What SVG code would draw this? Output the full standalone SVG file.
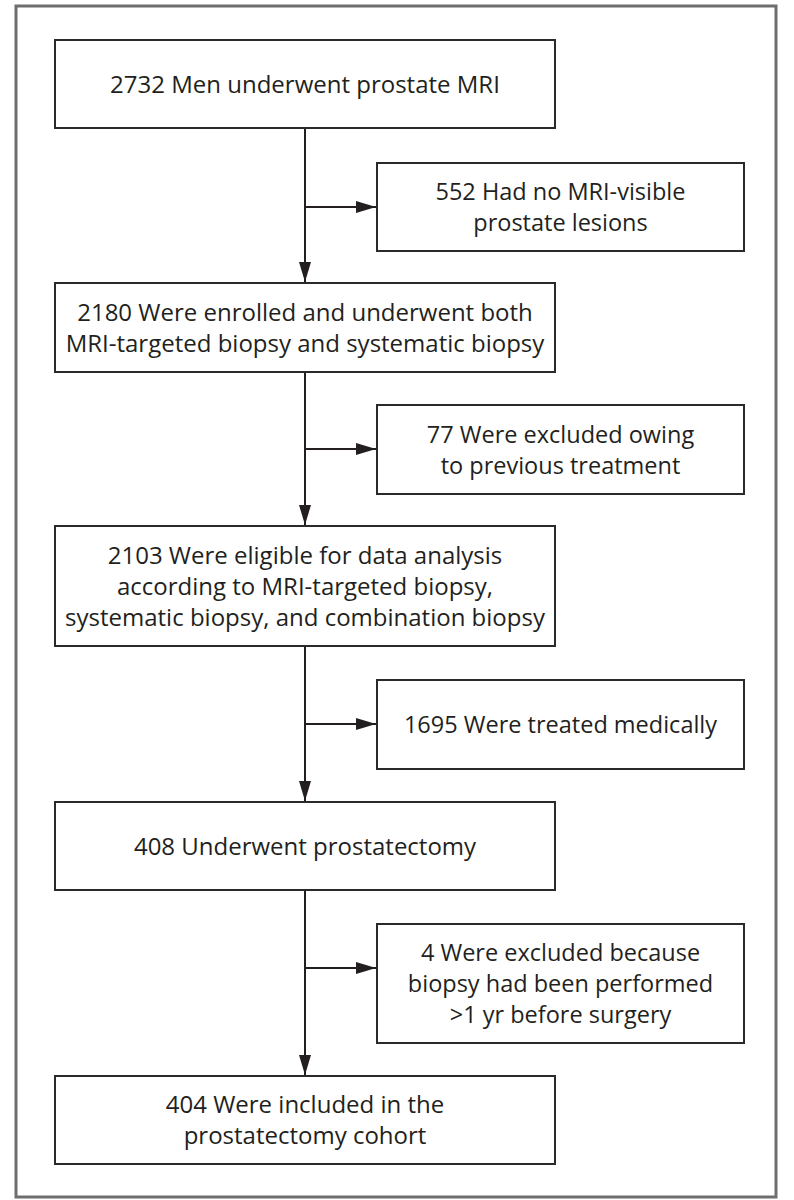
<svg xmlns="http://www.w3.org/2000/svg" width="794" height="1200" viewBox="0 0 794 1200">
<style>
.box{fill:#fff;stroke:#2a2a2a;stroke-width:2}
.t{font-family:"Open Sans","Liberation Sans",sans-serif;font-size:24px;fill:#231f20;text-anchor:middle}
.s{font-size:23.5px}
.ln{stroke:#231f20;stroke-width:2;fill:none}
</style>
<defs>
<marker id="ah" viewBox="0 0 20 12" refX="20" refY="6" markerWidth="20" markerHeight="12" markerUnits="userSpaceOnUse" orient="auto">
<path d="M0,0 L20,6 L0,12 Z" fill="#231f20"/>
</marker>
</defs>
<rect x="0" y="0" width="794" height="1200" fill="#fff"/>
<rect x="16" y="6" width="760" height="1191" fill="none" stroke="#6e6e6e" stroke-width="3"/>
<g id="connectors">
<line class="ln" x1="305" y1="129" x2="305" y2="282" marker-end="url(#ah)"/>
<line class="ln" x1="305" y1="207" x2="376" y2="207" marker-end="url(#ah)"/>
<line class="ln" x1="305" y1="373" x2="305" y2="525" marker-end="url(#ah)"/>
<line class="ln" x1="305" y1="449" x2="376" y2="449" marker-end="url(#ah)"/>
<line class="ln" x1="305" y1="647" x2="305" y2="801" marker-end="url(#ah)"/>
<line class="ln" x1="305" y1="724" x2="376" y2="724" marker-end="url(#ah)"/>
<line class="ln" x1="305" y1="891" x2="305" y2="1075" marker-end="url(#ah)"/>
<line class="ln" x1="305" y1="968" x2="376" y2="968" marker-end="url(#ah)"/>
</g>
<g id="n1">
<rect class="box" x="55" y="40" width="500" height="88"/>
<text class="t" x="305" y="93">2732 Men underwent prostate MRI</text>
</g>
<g id="s1">
<rect class="box" x="377" y="163" width="367" height="88"/>
<text class="t s" x="560.5" y="200">552 Had no MRI-visible</text>
<text class="t s" x="560.5" y="231">prostate lesions</text>
</g>
<g id="n2">
<rect class="box" x="55" y="283" width="500" height="89"/>
<text class="t" x="305" y="321">2180 Were enrolled and underwent both</text>
<text class="t" x="305" y="352">MRI-targeted biopsy and systematic biopsy</text>
</g>
<g id="s2">
<rect class="box" x="377" y="405" width="367" height="89"/>
<text class="t s" x="560.5" y="442.5">77 Were excluded owing</text>
<text class="t s" x="560.5" y="473.5">to previous treatment</text>
</g>
<g id="n3">
<rect class="box" x="55" y="526" width="500" height="120"/>
<text class="t" x="305" y="563.5">2103 Were eligible for data analysis</text>
<text class="t" x="305" y="594.5">according to MRI-targeted biopsy,</text>
<text class="t" x="305" y="625.5">systematic biopsy, and combination biopsy</text>
</g>
<g id="s3">
<rect class="box" x="377" y="680" width="367" height="89"/>
<text class="t s" x="560.5" y="733">1695 Were treated medically</text>
</g>
<g id="n4">
<rect class="box" x="55" y="802" width="500" height="88"/>
<text class="t" x="305" y="854.5">408 Underwent prostatectomy</text>
</g>
<g id="s4">
<rect class="box" x="377" y="924" width="367" height="119"/>
<text class="t s" x="560.5" y="961">4 Were excluded because</text>
<text class="t s" x="560.5" y="992">biopsy had been performed</text>
<text class="t s" x="560.5" y="1023">&gt;1 yr before surgery</text>
</g>
<g id="n5">
<rect class="box" x="55" y="1076" width="500" height="88"/>
<text class="t" x="305" y="1113">404 Were included in the</text>
<text class="t" x="305" y="1144">prostatectomy cohort</text>
</g>
</svg>
